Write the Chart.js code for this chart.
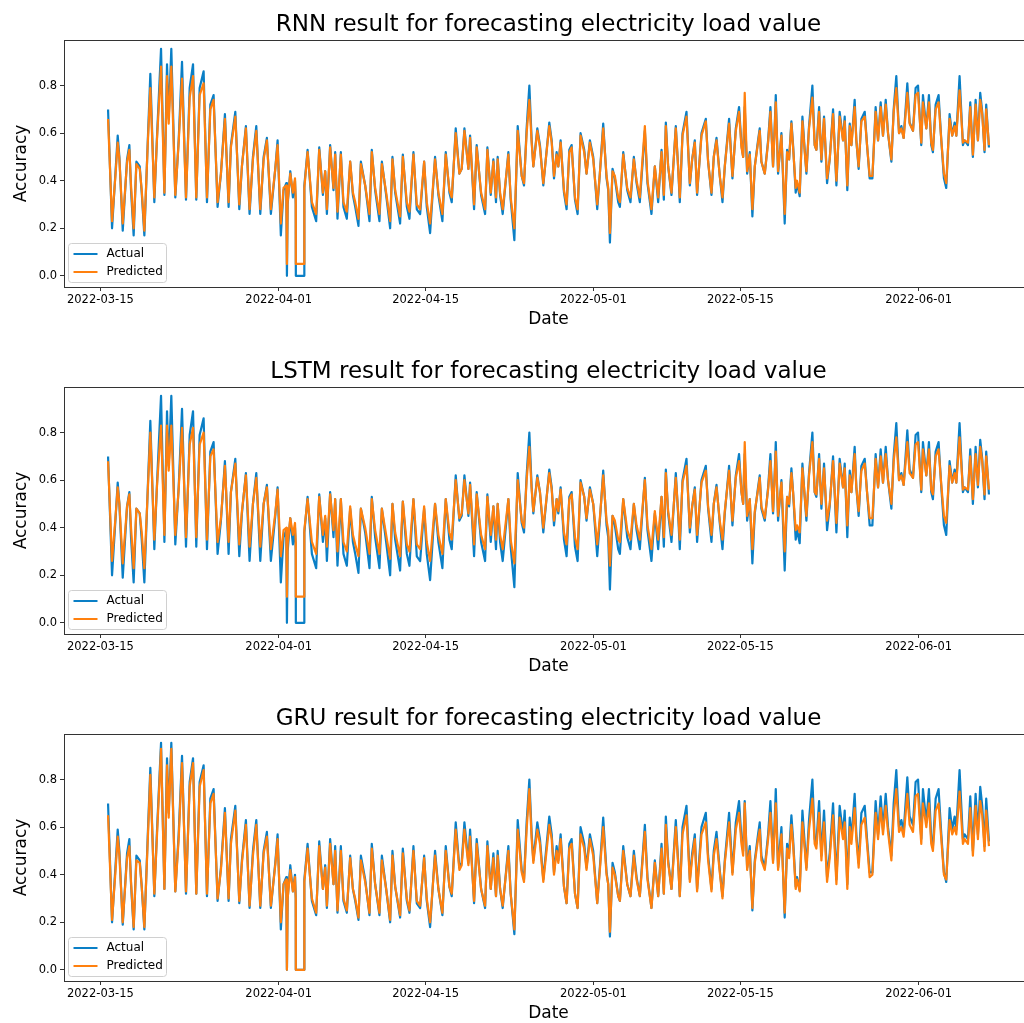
<!DOCTYPE html>
<html>
<head>
<meta charset="utf-8">
<title>Electricity load forecasting</title>
<script src="https://cdn.jsdelivr.net/npm/chart.js@4.4.0/dist/chart.umd.min.js"></script>
<style>
    html, body { margin: 0; padding: 0; background: #fff; overflow: hidden; }
    .panel { position: absolute; left: 0; }
</style>
</head>
<body>
<canvas id="rnnChart" class="panel" width="1034" height="347" style="top:0px"></canvas>
<canvas id="lstmChart" class="panel" width="1034" height="347" style="top:347px"></canvas>
<canvas id="gruChart" class="panel" width="1034" height="347" style="top:694px"></canvas>
<script>
    // x values are days counted from 2022-03-15 00:00
    const loadDays = [
        0.73, 1.11, 1.43, 1.65, 1.81, 2.13, 2.54, 2.76, 2.92, 3.17,
        3.43, 3.75, 3.94, 4.19, 4.51, 4.76, 5.14, 5.40, 5.78, 6.10,
        6.35, 6.51, 6.76, 7.14, 7.46, 7.78, 8.16, 8.51, 8.83, 9.14,
        9.46, 9.84, 10.16, 10.48, 10.79, 11.17, 11.49, 11.87, 12.22, 12.44,
        12.86, 13.24, 13.49, 13.87, 14.22, 14.54, 14.86, 15.24, 15.56, 15.87,
        16.25, 16.67, 16.89, 17.20, 17.46, 17.72, 17.78, 17.85, 18.10, 18.35,
        18.55, 18.62, 18.63, 19.43, 19.44,
        19.75, 20.16, 20.57, 20.86, 21.21, 21.43, 21.59, 21.90, 22.22, 22.38,
        22.60, 22.92, 23.17, 23.49, 23.81, 24.07, 24.29, 24.60, 24.83, 25.24,
        25.65, 25.87, 26.19, 26.60, 26.83, 27.24, 27.62, 27.84, 28.10, 28.57,
        28.83, 29.21, 29.46, 29.84, 30.16, 30.48, 30.86, 31.11, 31.43, 31.90,
        32.22, 32.60, 32.92, 33.27, 33.49, 33.87, 34.22, 34.44, 34.70, 35.08,
        35.24, 35.62, 35.87, 36.29, 36.67, 36.89, 37.21, 37.46, 37.71, 37.87,
        38.10, 38.35, 38.89, 39.11, 39.46, 39.78, 40.16, 40.38, 40.63, 40.89,
        41.11, 41.27, 41.65, 41.90, 42.22,
        42.79, 43.02, 43.24, 43.49, 43.65, 43.87, 44.19, 44.44, 44.70, 44.92,
        45.24, 45.49, 45.77, 46.12, 46.34, 46.66, 46.98, 47.36, 47.61, 47.93,
        48.25, 48.41, 48.57, 48.82, 49.04, 49.36, 49.52, 49.84, 50.22, 50.53,
        50.85, 51.11, 51.42, 51.90, 52.15, 52.53, 52.85, 53.17, 53.49, 53.71,
        53.90, 54.12, 54.44, 54.85, 55.07, 55.23, 55.49, 55.87, 56.19, 56.41,
        56.66, 56.88, 57.30, 57.71, 57.93, 58.25, 58.47, 58.73, 59.04, 59.30,
        59.52, 59.93, 60.25, 60.57, 60.88, 61.11, 61.27, 61.42, 61.65, 61.90,
        62.15, 62.38, 62.69, 62.85, 63.01, 63.33, 63.65, 63.87, 64.12, 64.28,
        64.38, 64.60, 64.92, 65.23,
        65.46, 65.65, 65.87, 66.03, 66.28, 66.41, 66.66, 66.92, 67.14, 67.30,
        67.55, 67.87, 68.09, 68.25, 68.51, 68.73, 68.98, 69.27, 69.52, 69.84,
        70.16, 70.47, 70.79, 70.95, 71.20, 71.43, 71.59, 71.90, 72.06, 72.28,
        72.54, 72.86, 73.08, 73.33, 73.59, 73.90, 74.13, 74.38, 74.60, 74.86,
        75.08, 75.40, 75.62, 75.87, 76.13, 76.35, 76.57, 76.92, 77.14, 77.46,
        77.71, 77.94, 78.25, 78.41, 78.73, 78.98, 79.20, 79.36, 79.62, 79.90,
        80.16, 80.41, 80.63, 80.95, 81.20, 81.43, 81.59, 81.90, 82.22, 82.38,
        82.70, 82.92, 83.17, 83.43, 83.65, 83.87, 84.06, 84.28, 84.44, 84.70
    ];

    const actualLoad = [
        0.70, 0.20, 0.43, 0.59, 0.50, 0.19, 0.49, 0.55, 0.36, 0.17,
        0.48, 0.46, 0.35, 0.17, 0.56, 0.85, 0.31, 0.59, 0.955, 0.34,
        0.89, 0.66, 0.955, 0.33, 0.57, 0.90, 0.32, 0.79, 0.89, 0.32,
        0.79, 0.86, 0.31, 0.72, 0.76, 0.29, 0.43, 0.68, 0.29, 0.55,
        0.69, 0.28, 0.46, 0.63, 0.26, 0.50, 0.63, 0.26, 0.50, 0.58,
        0.26, 0.45, 0.57, 0.17, 0.36, 0.39, 0.00, 0.30, 0.44, 0.33,
        0.40, 0.30, 0.00, 0.00, 0.38,
        0.53, 0.29, 0.23, 0.54, 0.34, 0.44, 0.26, 0.55, 0.36, 0.52,
        0.24, 0.52, 0.29, 0.24, 0.48, 0.34, 0.29, 0.21, 0.48, 0.38,
        0.23, 0.53, 0.36, 0.23, 0.48, 0.34, 0.20, 0.50, 0.35, 0.22,
        0.51, 0.29, 0.24, 0.52, 0.28, 0.26, 0.48, 0.29, 0.18, 0.50,
        0.34, 0.23, 0.52, 0.35, 0.31, 0.62, 0.43, 0.45, 0.62, 0.45,
        0.59, 0.28, 0.55, 0.34, 0.26, 0.54, 0.34, 0.49, 0.31, 0.50,
        0.34, 0.26, 0.52, 0.32, 0.15, 0.63, 0.42, 0.38, 0.62, 0.80,
        0.57, 0.46, 0.62, 0.55, 0.38,
        0.645, 0.57, 0.41, 0.52, 0.46, 0.57, 0.35, 0.28, 0.53, 0.55,
        0.32, 0.26, 0.60, 0.53, 0.43, 0.57, 0.50, 0.28, 0.43, 0.64,
        0.41, 0.36, 0.14, 0.45, 0.41, 0.31, 0.29, 0.52, 0.36, 0.31,
        0.50, 0.39, 0.31, 0.61, 0.39, 0.26, 0.46, 0.31, 0.53, 0.32,
        0.645, 0.46, 0.34, 0.63, 0.46, 0.31, 0.60, 0.69, 0.38, 0.49,
        0.57, 0.34, 0.60, 0.66, 0.48, 0.34, 0.50, 0.58, 0.42, 0.31,
        0.46, 0.66, 0.41, 0.62, 0.71, 0.55, 0.50, 0.71, 0.43, 0.52,
        0.25, 0.46, 0.57, 0.62, 0.48, 0.43, 0.57, 0.71, 0.46, 0.63,
        0.76, 0.43, 0.60, 0.22,
        0.53, 0.49, 0.65, 0.55, 0.35, 0.39, 0.335, 0.67, 0.53, 0.43,
        0.63, 0.80, 0.55, 0.53, 0.71, 0.48, 0.67, 0.39, 0.49, 0.70,
        0.38, 0.69, 0.57, 0.67, 0.36, 0.64, 0.55, 0.74, 0.57, 0.45,
        0.66, 0.69, 0.55, 0.41, 0.41, 0.71, 0.57, 0.73, 0.59, 0.74,
        0.60, 0.48, 0.70, 0.84, 0.60, 0.63, 0.58, 0.81, 0.645, 0.61,
        0.79, 0.80, 0.55, 0.76, 0.62, 0.76, 0.55, 0.52, 0.72, 0.76,
        0.57, 0.41, 0.37, 0.68, 0.59, 0.645, 0.59, 0.84, 0.55, 0.57,
        0.55, 0.73, 0.50, 0.74, 0.57, 0.77, 0.69, 0.52, 0.72, 0.54
    ];

    const rnnPredicted = [
        0.66, 0.23, 0.42, 0.56, 0.49, 0.22, 0.48, 0.53, 0.38, 0.20,
        0.47, 0.45, 0.36, 0.19, 0.55, 0.79, 0.33, 0.58, 0.88, 0.35,
        0.84, 0.64, 0.88, 0.34, 0.56, 0.83, 0.33, 0.75, 0.84, 0.33,
        0.76, 0.81, 0.33, 0.70, 0.74, 0.31, 0.43, 0.66, 0.31, 0.54,
        0.67, 0.30, 0.46, 0.62, 0.28, 0.49, 0.61, 0.28, 0.49, 0.57,
        0.28, 0.45, 0.55, 0.22, 0.37, 0.38, 0.05, 0.31, 0.43, 0.35,
        0.41, 0.32, 0.05, 0.05, 0.37,
        0.52, 0.31, 0.26, 0.53, 0.35, 0.44, 0.28, 0.54, 0.37, 0.51,
        0.27, 0.51, 0.31, 0.27, 0.48, 0.35, 0.31, 0.24, 0.47, 0.38,
        0.26, 0.52, 0.37, 0.26, 0.47, 0.35, 0.23, 0.49, 0.36, 0.25,
        0.50, 0.31, 0.27, 0.51, 0.30, 0.28, 0.48, 0.31, 0.22, 0.49,
        0.35, 0.26, 0.51, 0.36, 0.33, 0.60, 0.43, 0.45, 0.61, 0.45,
        0.58, 0.30, 0.54, 0.35, 0.28, 0.53, 0.35, 0.48, 0.33, 0.49,
        0.35, 0.28, 0.51, 0.33, 0.20, 0.61, 0.42, 0.39, 0.60, 0.74,
        0.56, 0.46, 0.61, 0.54, 0.39,
        0.63, 0.56, 0.42, 0.51, 0.46, 0.56, 0.36, 0.30, 0.52, 0.54,
        0.33, 0.28, 0.59, 0.52, 0.43, 0.56, 0.49, 0.30, 0.43, 0.62,
        0.42, 0.37, 0.18, 0.44, 0.42, 0.33, 0.31, 0.51, 0.37, 0.33,
        0.49, 0.40, 0.33, 0.63, 0.40, 0.28, 0.46, 0.33, 0.52, 0.34,
        0.63, 0.46, 0.35, 0.62, 0.46, 0.33, 0.59, 0.67, 0.39, 0.49,
        0.56, 0.35, 0.59, 0.65, 0.48, 0.35, 0.50, 0.57, 0.42, 0.33,
        0.46, 0.64, 0.42, 0.61, 0.69, 0.54, 0.50, 0.77, 0.44, 0.51,
        0.28, 0.46, 0.56, 0.61, 0.48, 0.43, 0.56, 0.69, 0.46, 0.62,
        0.73, 0.44, 0.59, 0.26,
        0.52, 0.49, 0.64, 0.54, 0.37, 0.40, 0.35, 0.65, 0.52, 0.44,
        0.62, 0.75, 0.55, 0.53, 0.69, 0.49, 0.66, 0.41, 0.49, 0.68,
        0.40, 0.67, 0.57, 0.65, 0.38, 0.63, 0.55, 0.71, 0.57, 0.46,
        0.65, 0.67, 0.55, 0.42, 0.42, 0.69, 0.57, 0.71, 0.59, 0.72,
        0.60, 0.49, 0.69, 0.79, 0.60, 0.62, 0.58, 0.77, 0.64, 0.61,
        0.76, 0.77, 0.56, 0.73, 0.62, 0.73, 0.56, 0.53, 0.70, 0.73,
        0.57, 0.43, 0.39, 0.66, 0.59, 0.63, 0.59, 0.78, 0.56, 0.57,
        0.56, 0.71, 0.51, 0.72, 0.57, 0.74, 0.68, 0.53, 0.70, 0.55
    ];

    const lstmPredicted = [
        0.68, 0.26, 0.44, 0.57, 0.50, 0.25, 0.49, 0.54, 0.40, 0.23,
        0.48, 0.46, 0.38, 0.23, 0.55, 0.80, 0.35, 0.58, 0.83, 0.37,
        0.83, 0.64, 0.83, 0.37, 0.56, 0.82, 0.36, 0.75, 0.82, 0.36,
        0.75, 0.80, 0.35, 0.70, 0.73, 0.34, 0.44, 0.66, 0.34, 0.55,
        0.67, 0.33, 0.47, 0.62, 0.32, 0.50, 0.61, 0.32, 0.50, 0.57,
        0.31, 0.46, 0.56, 0.28, 0.39, 0.40, 0.11, 0.33, 0.44, 0.37,
        0.42, 0.34, 0.11, 0.11, 0.39,
        0.52, 0.34, 0.29, 0.53, 0.37, 0.45, 0.32, 0.54, 0.39, 0.52,
        0.30, 0.52, 0.34, 0.30, 0.49, 0.37, 0.33, 0.28, 0.48, 0.40,
        0.29, 0.52, 0.39, 0.29, 0.48, 0.37, 0.27, 0.50, 0.38, 0.28,
        0.51, 0.33, 0.30, 0.52, 0.33, 0.31, 0.49, 0.34, 0.26, 0.50,
        0.37, 0.29, 0.52, 0.38, 0.35, 0.60, 0.44, 0.46, 0.60, 0.46,
        0.58, 0.33, 0.54, 0.37, 0.31, 0.53, 0.37, 0.49, 0.35, 0.50,
        0.37, 0.31, 0.52, 0.35, 0.25, 0.60, 0.43, 0.40, 0.60, 0.74,
        0.56, 0.47, 0.61, 0.55, 0.40,
        0.63, 0.56, 0.43, 0.52, 0.47, 0.56, 0.38, 0.33, 0.52, 0.54,
        0.36, 0.31, 0.59, 0.53, 0.44, 0.56, 0.50, 0.33, 0.44, 0.62,
        0.43, 0.39, 0.24, 0.45, 0.43, 0.35, 0.34, 0.52, 0.39, 0.35,
        0.50, 0.41, 0.35, 0.60, 0.41, 0.31, 0.47, 0.35, 0.53, 0.36,
        0.63, 0.47, 0.37, 0.61, 0.47, 0.35, 0.59, 0.66, 0.40, 0.49,
        0.56, 0.37, 0.59, 0.64, 0.49, 0.37, 0.50, 0.57, 0.43, 0.35,
        0.47, 0.64, 0.43, 0.61, 0.68, 0.55, 0.50, 0.76, 0.45, 0.52,
        0.31, 0.47, 0.56, 0.61, 0.49, 0.44, 0.56, 0.68, 0.47, 0.62,
        0.72, 0.45, 0.59, 0.30,
        0.53, 0.50, 0.63, 0.55, 0.39, 0.41, 0.38, 0.65, 0.53, 0.45,
        0.62, 0.76, 0.55, 0.54, 0.69, 0.50, 0.65, 0.43, 0.50, 0.68,
        0.42, 0.67, 0.57, 0.65, 0.41, 0.62, 0.55, 0.71, 0.57, 0.47,
        0.64, 0.67, 0.55, 0.44, 0.44, 0.69, 0.57, 0.70, 0.59, 0.71,
        0.60, 0.50, 0.68, 0.78, 0.60, 0.62, 0.58, 0.76, 0.63, 0.61,
        0.75, 0.76, 0.56, 0.73, 0.62, 0.73, 0.56, 0.54, 0.70, 0.73,
        0.58, 0.45, 0.42, 0.66, 0.59, 0.63, 0.59, 0.78, 0.56, 0.57,
        0.56, 0.70, 0.52, 0.71, 0.58, 0.74, 0.68, 0.54, 0.70, 0.56
    ];

    const gruPredicted = [
        0.65, 0.21, 0.41, 0.56, 0.48, 0.20, 0.47, 0.52, 0.37, 0.18,
        0.46, 0.45, 0.35, 0.18, 0.54, 0.82, 0.32, 0.57, 0.93, 0.34,
        0.86, 0.64, 0.93, 0.33, 0.55, 0.87, 0.33, 0.77, 0.87, 0.32,
        0.77, 0.84, 0.32, 0.70, 0.74, 0.30, 0.42, 0.66, 0.30, 0.53,
        0.67, 0.29, 0.45, 0.61, 0.27, 0.48, 0.61, 0.27, 0.49, 0.56,
        0.27, 0.44, 0.55, 0.20, 0.36, 0.38, 0.00, 0.30, 0.42, 0.33,
        0.39, 0.30, 0.00, 0.00, 0.37,
        0.51, 0.30, 0.24, 0.52, 0.34, 0.43, 0.27, 0.53, 0.36, 0.50,
        0.25, 0.50, 0.30, 0.25, 0.47, 0.34, 0.30, 0.22, 0.46, 0.37,
        0.24, 0.51, 0.36, 0.24, 0.46, 0.34, 0.21, 0.48, 0.35, 0.23,
        0.49, 0.30, 0.25, 0.50, 0.29, 0.27, 0.47, 0.30, 0.20, 0.48,
        0.34, 0.24, 0.50, 0.35, 0.32, 0.59, 0.42, 0.44, 0.59, 0.44,
        0.56, 0.29, 0.53, 0.34, 0.27, 0.52, 0.34, 0.47, 0.31, 0.48,
        0.34, 0.27, 0.50, 0.32, 0.17, 0.59, 0.41, 0.37, 0.59, 0.76,
        0.55, 0.45, 0.59, 0.53, 0.37,
        0.61, 0.55, 0.40, 0.50, 0.45, 0.55, 0.35, 0.28, 0.51, 0.53,
        0.32, 0.26, 0.57, 0.51, 0.42, 0.55, 0.48, 0.28, 0.42, 0.60,
        0.40, 0.36, 0.16, 0.43, 0.40, 0.31, 0.29, 0.50, 0.36, 0.31,
        0.48, 0.38, 0.31, 0.58, 0.38, 0.26, 0.45, 0.31, 0.51, 0.32,
        0.61, 0.45, 0.34, 0.60, 0.45, 0.31, 0.57, 0.65, 0.37, 0.47,
        0.55, 0.33, 0.57, 0.62, 0.46, 0.33, 0.48, 0.55, 0.41, 0.30,
        0.45, 0.62, 0.40, 0.59, 0.66, 0.53, 0.48, 0.70, 0.42, 0.50,
        0.26, 0.45, 0.55, 0.59, 0.46, 0.42, 0.55, 0.66, 0.45, 0.60,
        0.70, 0.42, 0.57, 0.24,
        0.51, 0.47, 0.61, 0.53, 0.34, 0.38, 0.33, 0.62, 0.51, 0.42,
        0.59, 0.72, 0.53, 0.51, 0.66, 0.46, 0.62, 0.37, 0.47, 0.65,
        0.36, 0.64, 0.55, 0.62, 0.34, 0.60, 0.53, 0.68, 0.55, 0.43,
        0.61, 0.64, 0.53, 0.39, 0.40, 0.66, 0.55, 0.68, 0.57, 0.69,
        0.58, 0.46, 0.65, 0.76, 0.58, 0.60, 0.56, 0.74, 0.61, 0.58,
        0.73, 0.74, 0.53, 0.70, 0.60, 0.70, 0.53, 0.50, 0.67, 0.70,
        0.55, 0.40, 0.38, 0.63, 0.57, 0.60, 0.57, 0.75, 0.53, 0.55,
        0.53, 0.68, 0.48, 0.69, 0.55, 0.71, 0.65, 0.50, 0.67, 0.52
    ];

    const tickDays = [0, 17, 31, 47, 61, 78];
    const tickLabels = ['2022-03-15', '2022-04-01', '2022-04-15', '2022-05-01', '2022-05-15', '2022-06-01'];
    const yTicks = [0.0, 0.2, 0.4, 0.6, 0.8];
    const seriesNames = ['Actual', 'Predicted'];

    const ACTUAL_COLOR = '#0a7fc6';
    const PREDICTED_COLOR = '#ff800e';

    Chart.defaults.font.family = "'DejaVu Sans', sans-serif";
    Chart.defaults.color = '#000';

    // box round the plot area, like the axes spines
    const frame = {
        id: 'frame',
        afterDraw(chart) {
            const { ctx, chartArea: a } = chart;
            ctx.save();
            ctx.strokeStyle = '#333';
            ctx.lineWidth = 1;
            ctx.strokeRect(Math.round(a.left) + 0.5, Math.round(a.top) + 0.5,
                Math.round(a.right - a.left), Math.round(a.bottom - a.top));
            ctx.restore();
        }
    };

    // legend inside the lower left corner of the plot
    const cornerLegend = {
        id: 'cornerLegend',
        afterDraw(chart) {
            const { ctx, chartArea: a } = chart;
            const x = a.left + 4.5, w = 98, h = 39;
            const y = a.bottom - 4.5 - h;
            ctx.save();
            ctx.beginPath();
            ctx.roundRect(x, y, w, h, 3);
            ctx.fillStyle = 'rgba(255,255,255,0.8)';
            ctx.fill();
            ctx.strokeStyle = '#d0d0d0';
            ctx.lineWidth = 1;
            ctx.stroke();
            ctx.font = "12px 'DejaVu Sans'";
            ctx.textBaseline = 'middle';
            chart.data.datasets.forEach((ds, i) => {
                const rowY = y + 10.5 + i * 18;
                ctx.strokeStyle = ds.borderColor;
                ctx.lineWidth = 2;
                ctx.beginPath();
                ctx.moveTo(x + 5, rowY);
                ctx.lineTo(x + 29, rowY);
                ctx.stroke();
                ctx.fillStyle = '#000';
                ctx.fillText(ds.label, x + 38, rowY);
            });
            ctx.restore();
        }
    };

    function toPoints(values) {
        return loadDays.map((d, i) => ({ x: d, y: values[i] }));
    }

    function makePanel(canvasId, titleText, predicted) {
        const ctx = document.getElementById(canvasId).getContext('2d');
        return new Chart(ctx, {
            type: 'line',
            data: {
                datasets: [{
                    label: seriesNames[0],
                    data: toPoints(actualLoad),
                    borderColor: ACTUAL_COLOR,
                    borderWidth: 2.2,
                    order: 2
                }, {
                    label: seriesNames[1],
                    data: toPoints(predicted),
                    borderColor: PREDICTED_COLOR,
                    borderWidth: 2.2,
                    order: 1
                }]
            },
            options: {
                responsive: false,
                animation: false,
                events: [],
                layout: { padding: { left: 0, right: 1, top: 0, bottom: 0 } },
                elements: {
                    point: { radius: 0 },
                    line: { tension: 0, borderJoinStyle: 'round' }
                },
                scales: {
                    x: {
                        type: 'linear',
                        min: -3.47,
                        max: 88.9,
                        afterBuildTicks: axis => { axis.ticks = tickDays.map(v => ({ value: v })); },
                        afterFit: axis => { axis.height = 60; },
                        ticks: {
                            autoSkip: false,
                            maxRotation: 0,
                            padding: 2,
                            font: { size: 11.5 },
                            callback: (value, index) => tickLabels[index]
                        },
                        grid: { drawOnChartArea: false, tickLength: 4, color: '#333' },
                        border: { display: false },
                        title: {
                            display: true,
                            text: 'Date',
                            font: { size: 17 },
                            padding: { top: 0, bottom: 16.8 }
                        }
                    },
                    y: {
                        min: -0.047,
                        max: 0.992,
                        afterBuildTicks: axis => { axis.ticks = yTicks.map(v => ({ value: v })); },
                        afterFit: axis => { axis.width = 64; },
                        ticks: {
                            padding: 3,
                            font: { size: 11.5 },
                            callback: value => value.toFixed(1)
                        },
                        grid: { drawOnChartArea: false, tickLength: 4, color: '#333' },
                        border: { display: false },
                        title: {
                            display: true,
                            text: 'Accuracy',
                            font: { size: 17 },
                            padding: { top: 11.8, bottom: 0 }
                        }
                    }
                },
                plugins: {
                    legend: { display: false },
                    tooltip: { enabled: false },
                    title: {
                        display: true,
                        text: titleText,
                        fullSize: false,
                        font: { size: 23, weight: 'normal' },
                        color: '#000',
                        padding: { top: 11.6, bottom: 0.8 }
                    }
                }
            },
            plugins: [frame, cornerLegend]
        });
    }

    makePanel('rnnChart', 'RNN result for forecasting electricity load value', rnnPredicted);
    makePanel('lstmChart', 'LSTM result for forecasting electricity load value', lstmPredicted);
    makePanel('gruChart', 'GRU result for forecasting electricity load value', gruPredicted);
</script>
</body>
</html>
